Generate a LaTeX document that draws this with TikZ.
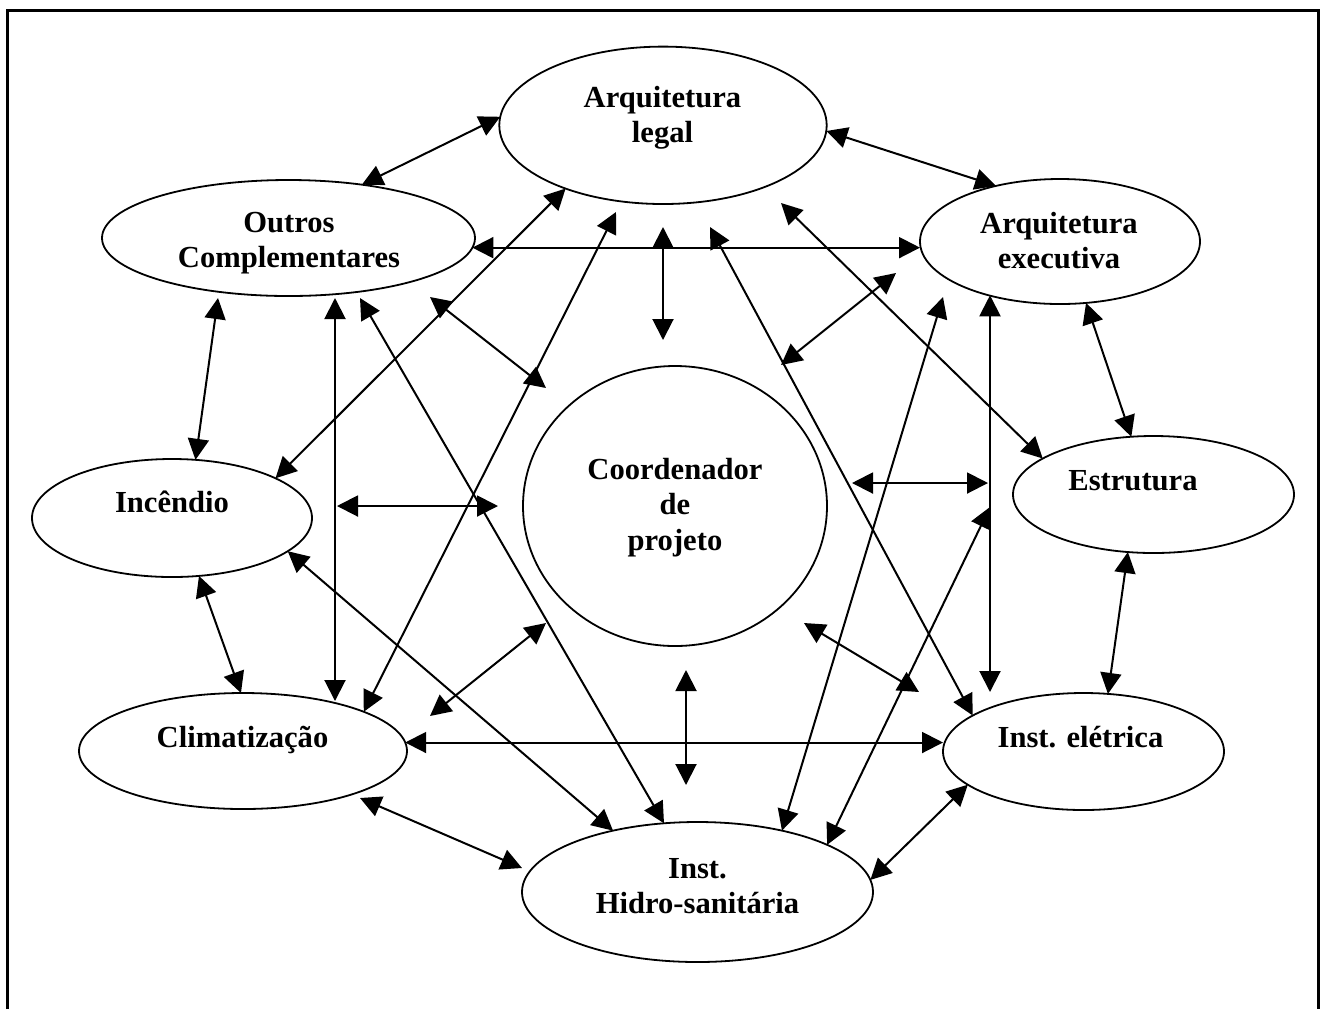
\documentclass[tikz,border=0pt]{standalone}
\usepackage{fontspec}
\setmainfont{Liberation Serif}
\usetikzlibrary{arrows.meta,shapes.geometric}

\tikzset{
  area/.style={draw, ellipse, line width=0.9pt, inner sep=0pt, outer sep=0pt},
  lbl/.style={font=\bfseries\fontsize{15.3pt}{17.75pt}\selectfont, align=center, inner sep=0pt},
  link/.style={line width=1pt,
    {Triangle[length=10.5pt,width=10.5pt]}-{Triangle[length=10.5pt,width=10.5pt]}},
}

\begin{document}
\begin{tikzpicture}[x=0.5pt,y=-0.5pt]
\useasboundingbox (0,0) rectangle (1324,1009);

% frame (open at the bottom)
\draw[line width=1.5pt] (7,1009) -- (7,10) -- (1318,10) -- (1318,1009);

% project areas
\node[area, minimum width=163.7pt, minimum height=78.7pt] (al) at (663,125.3) {};
\node[area, minimum width=186.5pt, minimum height=58pt]   (oc) at (288.5,238) {};
\node[area, minimum width=140pt,   minimum height=62.5pt] (ae) at (1060,241.5) {};
\node[area, minimum width=140pt,   minimum height=59pt]   (in) at (172,518) {};
\node[area, minimum width=152pt,   minimum height=140pt]  (co) at (675,506) {};
\node[area, minimum width=140.5pt, minimum height=58.5pt] (es) at (1153.5,494.5) {};
\node[area, minimum width=164pt,   minimum height=58pt]   (cl) at (243,751) {};
\node[area, minimum width=175.5pt, minimum height=70pt]   (hs) at (697.5,892) {};
\node[area, minimum width=140.5pt, minimum height=58.5pt] (ie) at (1083.5,751.5) {};

% labels
\node[lbl] (al-t) at (662.5,117.8) {Arquitetura\\legal};
\node[lbl] (oc-t) at (289,243) {Outros\\Complementares};
\node[lbl] (ae-t) at (1059,240.8) {Arquitetura\\executiva};
\node[lbl, anchor=base] (in-t) at (172,512.7) {Incêndio};
\node[lbl] (co-t) at (675,507.3) {Coordenador\\de\\projeto};
\node[lbl, anchor=base] (es-t) at (1133,490) {Estrutura};
\node[lbl, anchor=base] (cl-t) at (242.5,747) {Climatização};
\node[lbl] (hs-t) at (697.5,886.3) {Inst.\\Hidro-sanitária};
\node[lbl, anchor=base] (ie-t) at (1080.5,747) {Inst. elétrica};

% free arrow ends
\coordinate (al-co) at (663,227);  \coordinate (co-al) at (663,340);
\coordinate (al-cl) at (616,212);
\coordinate (al-ie) at (710,227);
\coordinate (al-es) at (781,203);
\coordinate (ae-co) at (896,273);  \coordinate (co-ae) at (781,365);
\coordinate (ae-hs) at (943,297);
\coordinate (ie-ae) at (990,692);
\coordinate (co-rt) at (852,483);  \coordinate (rt-co) at (988,483);
\coordinate (hs-rt) at (990,507);
\coordinate (co-ie) at (804,623);  \coordinate (ie-co) at (919,692);
\coordinate (co-hs) at (686,670);  \coordinate (hs-co) at (686,785);
\coordinate (cl-hs) at (360,798);  \coordinate (hs-cl) at (522,868);
\coordinate (oc-hs) at (360,298);
\coordinate (oc-co) at (430,297);  \coordinate (co-oc) at (546,388);
\coordinate (oc-in) at (218,298);
\coordinate (oc-cl) at (335,298);  \coordinate (cl-oc) at (335,701);
\coordinate (lf-co) at (337,506);  \coordinate (co-lf) at (498,506);
\coordinate (co-cl) at (546,623);  \coordinate (cl-co) at (430,716);

% interactions
\draw[link] (oc.36.8) -- (al.177.1);
\draw[link] (al.-2.7) -- (ae.139.5);
\draw[link] (oc.-3.3) -- (oc.-3.3 -| ae.west);
\draw[link] (al-co) -- (co-al);
\draw[link] (al.213.4) -- (in.21.1);
\draw[link] (al-cl) -- (cl.18);
\draw[link] (al-ie) -- (ie.162.6);
\draw[link] (al-es) -- (es.162.6);
\draw[link] (ae-co) -- (co-ae);
\draw[link] (ae-hs) -- (hs.36.9);
\draw[link] (ie-ae |- ae.217.9) -- (ie-ae);
\draw[link] (ae.-67) -- (es.111.6);
\draw[link] (es.246.8) -- (ie.67.6);
\draw[link] (co-rt) -- (rt-co);
\draw[link] (hs.20.6) -- (hs-rt);
\draw[link] (co-ie) -- (ie-co);
\draw[link] (hs.4.5) -- (ie.196.8);
\draw[link] (cl.3.8) -- (cl.3.8 -| ie.west);
\draw[link] (co-hs) -- (hs-co);
\draw[link] (cl-hs) -- (hs-cl);
\draw[link] (in.-16.5) -- (hs.144);
\draw[link] (oc-hs) -- (hs.116.9);
\draw[link] (oc-co) -- (co-oc);
\draw[link] (oc-in) -- (in.68.2);
\draw[link] (oc-cl) -- (cl-oc);
\draw[link] (lf-co) -- (co-lf);
\draw[link] (in.-65) -- (cl.92.8);
\draw[link] (co-cl) -- (cl-co);
\end{tikzpicture}
\end{document}
